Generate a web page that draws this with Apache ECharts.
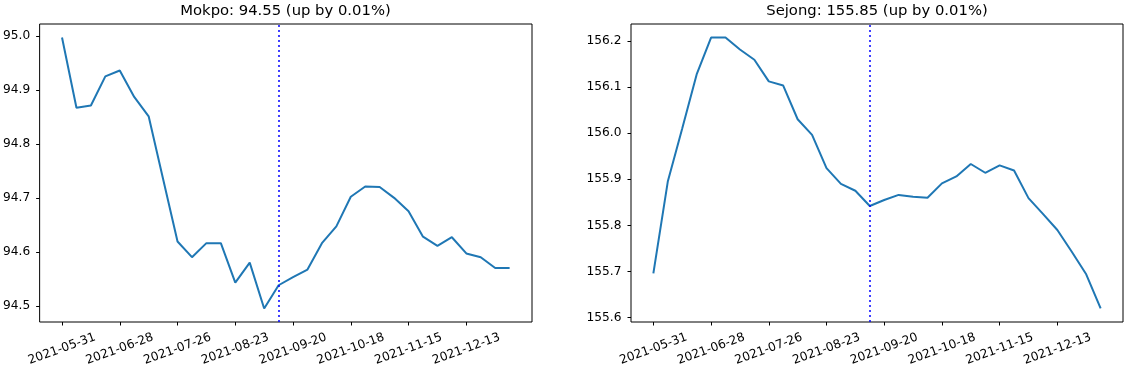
<!DOCTYPE html>
<html>
<head>
<meta charset="utf-8">
<script src="https://cdn.jsdelivr.net/npm/echarts@6/dist/echarts.min.js"></script>
<style>
html,body{margin:0;padding:0;background:#fff;}
#chart{width:1129px;height:374px;}
</style>
</head>
<body>
<div id="chart"></div>
<script>
const dates = ['2021-05-31','2021-06-07','2021-06-14','2021-06-21','2021-06-28','2021-07-05','2021-07-12','2021-07-19',
  '2021-07-26','2021-08-02','2021-08-09','2021-08-16','2021-08-23','2021-08-30','2021-09-06','2021-09-13',
  '2021-09-20','2021-09-27','2021-10-04','2021-10-11','2021-10-18','2021-10-25','2021-11-01','2021-11-08',
  '2021-11-15','2021-11-22','2021-11-29','2021-12-06','2021-12-13','2021-12-20','2021-12-27','2022-01-03'];
const mokpo = [94.997,94.867,94.871,94.925,94.936,94.887,94.851,94.735,94.619,94.590,94.616,94.616,94.543,94.580,94.495,94.538,
  94.553,94.567,94.616,94.647,94.702,94.721,94.720,94.700,94.675,94.628,94.611,94.627,94.597,94.590,94.570,94.570];
const sejong = [155.696,155.895,156.010,156.127,156.207,156.207,156.181,156.159,156.112,156.103,156.030,155.996,155.924,155.890,155.875,155.842,
  155.855,155.866,155.862,155.860,155.891,155.906,155.933,155.914,155.930,155.919,155.859,155.825,155.790,155.743,155.694,155.620];
const xTickLabels = ['2021-05-31','2021-06-28','2021-07-26','2021-08-23','2021-09-20','2021-10-18','2021-11-15','2021-12-13'];
const mokpoTicks = [94.5,94.6,94.7,94.8,94.9,95.0];
const sejongTicks = [155.6,155.7,155.8,155.9,156.0,156.1,156.2];
const markerDate = '2021-09-13';
const titles = ['Mokpo: 94.55 (up by 0.01%)','Sejong: 155.85 (up by 0.01%)'];

const FONT = 'DejaVu Sans';
const TICK_FONT = 12.2;
const xTickIdx = xTickLabels.map(d => dates.indexOf(d));
const markerIdx = dates.indexOf(markerDate);

const grids = [
  {left: 39, top: 24, width: 493, height: 298},
  {left: 631, top: 24, width: 492, height: 298}
];

function xAxis(gi){
  return {
    type: 'value', gridIndex: gi, min: -1.55, max: dates.length - 1 + 1.55,
    axisLine: {show: false, onZero: false},
    splitLine: {show: false},
    axisTick: {show: true, customValues: xTickIdx, length: 3.5, lineStyle: {color: '#000', width: 1}},
    axisLabel: {show: true, customValues: xTickIdx, rotate: 20, align: 'center', verticalAlign: 'middle',
      margin: 27, fontFamily: FONT, fontSize: TICK_FONT, color: '#000',
      formatter: v => dates[Math.round(v)]}
  };
}
function yAxis(gi, ticks, min, max){
  return {
    type: 'value', gridIndex: gi, min: min, max: max,
    axisLine: {show: false, onZero: false},
    splitLine: {show: false},
    axisTick: {show: true, customValues: ticks, length: 3.5, lineStyle: {color: '#000', width: 1}},
    axisLabel: {show: true, customValues: ticks, margin: 9.5, fontFamily: FONT, fontSize: TICK_FONT, color: '#000',
      formatter: v => v.toFixed(1)}
  };
}
function pad(arr){
  const mn = Math.min(...arr), mx = Math.max(...arr), p = (mx - mn) * 0.05;
  return [mn - p, mx + p];
}
const pm = pad(mokpo), ps = pad(sejong);

function series(gi, vals){
  return {
    type: 'line', xAxisIndex: gi, yAxisIndex: gi,
    data: vals.map((v, i) => [i, v]),
    showSymbol: false, symbol: 'none',
    lineStyle: {color: '#1f77b4', width: 2},
    itemStyle: {color: '#1f77b4'},
    animation: false,
    markLine: {
      silent: true, symbol: 'none', label: {show: false}, animation: false,
      lineStyle: {color: '#0000ff', type: [2, 3], width: 1.5},
      data: [{xAxis: markerIdx}]
    }
  };
}

const chart = echarts.init(document.getElementById('chart'), null, {renderer: 'canvas'});
chart.setOption({
  animation: false,
  backgroundColor: '#fff',
  grid: grids.map(g => Object.assign({show: true, borderColor: '#000', borderWidth: 1, backgroundColor: 'transparent'}, g)),
  xAxis: [xAxis(0), xAxis(1)],
  yAxis: [yAxis(0, mokpoTicks, pm[0], pm[1]), yAxis(1, sejongTicks, ps[0], ps[1])],
  series: [series(0, mokpo), series(1, sejong)],
  graphic: titles.map((t, i) => ({
    type: 'text', x: grids[i].left + grids[i].width / 2, y: 4,
    style: {text: t, fontFamily: FONT, fontSize: 14.8, fill: '#000', textAlign: 'center', textVerticalAlign: 'top'}
  }))
});
</script>
</body>
</html>
